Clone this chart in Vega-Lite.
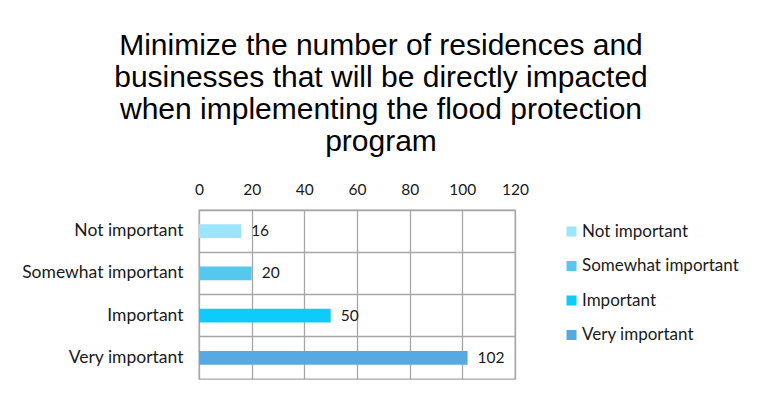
{
  "$schema": "https://vega.github.io/schema/vega-lite/v6.json",
  "autosize": "none",
  "width": 316,
  "height": 169,
  "padding": {"left": 199, "top": 210, "right": 246, "bottom": 22},
  "background": "white",
  "data": {
    "values": [
      {"level": "Not important", "count": 16},
      {"level": "Somewhat important", "count": 20},
      {"level": "Important", "count": 50},
      {"level": "Very important", "count": 102}
    ]
  },
  "title": {
    "text": ["Minimize the number of residences and", "businesses that will be directly impacted", "when implementing the flood protection", "program"],
    "font": "Liberation Sans",
    "fontSize": 30,
    "fontWeight": "normal",
    "color": "#000000",
    "lineHeight": 32,
    "anchor": "middle",
    "dx": 24,
    "offset": 25
  },
  "config": {
    "view": {"stroke": "#a6a6a6", "strokeWidth": 1.3},
    "font": "Lato"
  },
  "encoding": {
    "y": {
      "field": "level",
      "type": "nominal",
      "sort": ["Not important", "Somewhat important", "Important", "Very important"],
      "scale": {"paddingInner": 0, "paddingOuter": 0},
      "axis": {
        "title": null,
        "domain": false,
        "ticks": false,
        "grid": true,
        "bandPosition": 0,
        "gridColor": "#a6a6a6",
        "gridWidth": 1.3,
        "gridOpacity": 1,
        "labelFont": "Lato",
        "labelFontSize": 17.5,
        "labelColor": "#1a1a1a",
        "labelPadding": 16
      }
    },
    "x": {
      "field": "count",
      "type": "quantitative",
      "scale": {"domain": [0, 120], "nice": false},
      "axis": {
        "orient": "top",
        "title": null,
        "values": [0, 20, 40, 60, 80, 100, 120],
        "domain": false,
        "ticks": false,
        "grid": true,
        "gridColor": "#a6a6a6",
        "gridWidth": 1.3,
        "gridOpacity": 1,
        "labelFont": "Lato",
        "labelFontSize": 15.5,
        "labelColor": "#1a1a1a",
        "labelPadding": 13,
        "labelFlush": false
      }
    }
  },
  "layer": [
    {
      "mark": {"type": "bar", "height": {"band": 0.33}},
      "encoding": {
        "color": {
          "field": "level",
          "type": "nominal",
          "sort": ["Not important", "Somewhat important", "Important", "Very important"],
          "scale": {
            "domain": ["Not important", "Somewhat important", "Important", "Very important"],
            "range": ["#9be5fd", "#55c8ee", "#0fcbfb", "#57a9e4"]
          },
          "legend": {
            "title": null,
            "orient": "none",
            "legendX": 364,
            "legendY": 13,
            "symbolType": "square",
            "symbolSize": 100,
            "symbolStrokeWidth": 0,
            "labelFont": "Lato",
            "labelFontSize": 17,
            "labelColor": "#1a1a1a",
            "labelOffset": 2,
            "rowPadding": 16.5
          }
        }
      }
    },
    {
      "mark": {"type": "text", "align": "left", "dx": 10, "font": "Lato", "fontSize": 15.5, "color": "#1a1a1a"},
      "encoding": {"text": {"field": "count", "type": "quantitative"}}
    }
  ]
}
